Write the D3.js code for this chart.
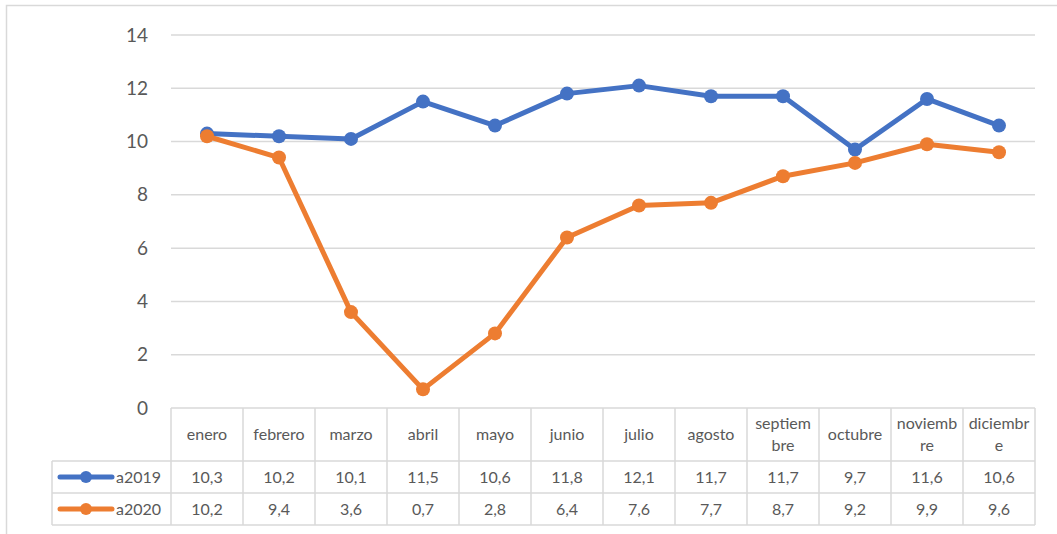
<!DOCTYPE html>
<html>
<head>
<meta charset="utf-8">
<title>a2019 vs a2020</title>
<script src="https://d3js.org/d3.v7.min.js"></script>
<style>
  body { margin: 0; background: #fff; }
  svg text { font-family: Lato, "Open Sans", sans-serif; fill: #595959; }
</style>
</head>
<body>
<svg id="chart" width="1057" height="534"></svg>
<script>
// data
var months = ["enero", "febrero", "marzo", "abril", "mayo", "junio", "julio",
              "agosto", "septiembre", "octubre", "noviembre", "diciembre"];
var monthLabels = [["enero"], ["febrero"], ["marzo"], ["abril"], ["mayo"], ["junio"], ["julio"],
                   ["agosto"], ["septiem", "bre"], ["octubre"], ["noviemb", "re"], ["diciembr", "e"]];
var a2019 = [10.3, 10.2, 10.1, 11.5, 10.6, 11.8, 12.1, 11.7, 11.7, 9.7, 11.6, 10.6];
var a2020 = [10.2, 9.4, 3.6, 0.7, 2.8, 6.4, 7.6, 7.7, 8.7, 9.2, 9.9, 9.6];
var seriesNames = ["a2019", "a2020"];
var yTicks = [0, 2, 4, 6, 8, 10, 12, 14];

var colors = { a2019: "#4472C4", a2020: "#ED7D31" };
var series = [
  { name: seriesNames[0], values: a2019 },
  { name: seriesNames[1], values: a2020 }
];

var svg = d3.select("#chart");
var grid = "#d9d9d9";

// chart area border (left + top only visible)
svg.append("path")
  .attr("d", "M6.5,534 L6.5,5.5 L1057,5.5")
  .attr("fill", "none")
  .attr("stroke", grid)
  .attr("stroke-width", 1.5);

var x = d3.scaleBand().domain(months).range([171, 1035]);
var y = d3.scaleLinear().domain([0, 14]).range([408, 35]);

// gridlines
svg.append("g").selectAll("line")
  .data(yTicks.filter(d => d > 0))
  .enter().append("line")
  .attr("x1", 171).attr("x2", 1035)
  .attr("y1", d => y(d)).attr("y2", d => y(d))
  .attr("stroke", grid).attr("stroke-width", 1.5);

// y labels
svg.append("g").selectAll("text")
  .data(yTicks)
  .enter().append("text")
  .attr("x", 148)
  .attr("y", d => y(d) + 6.5)
  .attr("text-anchor", "end")
  .style("font-size", "19px")
  .text(d => d);

// data table
var rowTop = [408, 461, 493, 525];
var table = svg.append("g")
  .attr("stroke", grid).attr("stroke-width", 1.5).attr("fill", "none");

// horizontal rules
table.append("line").attr("x1", 171).attr("x2", 1035).attr("y1", rowTop[0]).attr("y2", rowTop[0]);
[1, 2, 3].forEach(function(i) {
  table.append("line").attr("x1", 52).attr("x2", 1035).attr("y1", rowTop[i]).attr("y2", rowTop[i]);
});
// vertical rules
table.append("line").attr("x1", 52).attr("x2", 52).attr("y1", rowTop[1]).attr("y2", rowTop[3]);
months.forEach(function(m) {
  table.append("line").attr("x1", x(m)).attr("x2", x(m)).attr("y1", rowTop[0]).attr("y2", rowTop[3]);
});
table.append("line").attr("x1", 1035).attr("x2", 1035).attr("y1", rowTop[0]).attr("y2", rowTop[3]);

// header labels
var headMid = (rowTop[0] + rowTop[1]) / 2;
var heads = svg.append("g").selectAll("text")
  .data(monthLabels)
  .enter().append("text")
  .attr("text-anchor", "middle")
  .style("font-size", "16px")
  .attr("x", (d, i) => x(months[i]) + x.bandwidth() / 2)
  .attr("y", d => d.length === 1 ? headMid + 5.5 : headMid - 5.5);
heads.selectAll("tspan")
  .data(d => d)
  .enter().append("tspan")
  .attr("x", function() { return d3.select(this.parentNode).attr("x"); })
  .attr("dy", (d, i) => i === 0 ? 0 : 22)
  .text(d => d);

// value rows + legend keys
series.forEach(function(s, si) {
  var mid = (rowTop[si + 1] + rowTop[si + 2]) / 2;
  svg.append("g").selectAll("text")
    .data(s.values)
    .enter().append("text")
    .attr("text-anchor", "middle")
    .style("font-size", "16px")
    .attr("x", (d, i) => x(months[i]) + x.bandwidth() / 2)
    .attr("y", mid + 5.5)
    .text(d => String(d).replace(".", ","));

  svg.append("line")
    .attr("x1", 60).attr("x2", 112).attr("y1", mid).attr("y2", mid)
    .attr("stroke", colors[s.name]).attr("stroke-width", 5)
    .attr("stroke-linecap", "round");
  svg.append("circle")
    .attr("cx", 86).attr("cy", mid).attr("r", 6)
    .attr("fill", colors[s.name]);
  svg.append("text")
    .attr("x", 116).attr("y", mid + 5.5)
    .style("font-size", "16px")
    .text(s.name);
});

// lines and markers
var line = d3.line()
  .x((d, i) => x(months[i]) + x.bandwidth() / 2)
  .y(d => y(d));

series.forEach(function(s) {
  var g = svg.append("g");
  g.append("path")
    .attr("d", line(s.values))
    .attr("fill", "none")
    .attr("stroke", colors[s.name])
    .attr("stroke-width", 5)
    .attr("stroke-linejoin", "round");
  g.selectAll("circle")
    .data(s.values)
    .enter().append("circle")
    .attr("cx", (d, i) => x(months[i]) + x.bandwidth() / 2)
    .attr("cy", d => y(d))
    .attr("r", 7)
    .attr("fill", colors[s.name]);
});
</script>
</body>
</html>
